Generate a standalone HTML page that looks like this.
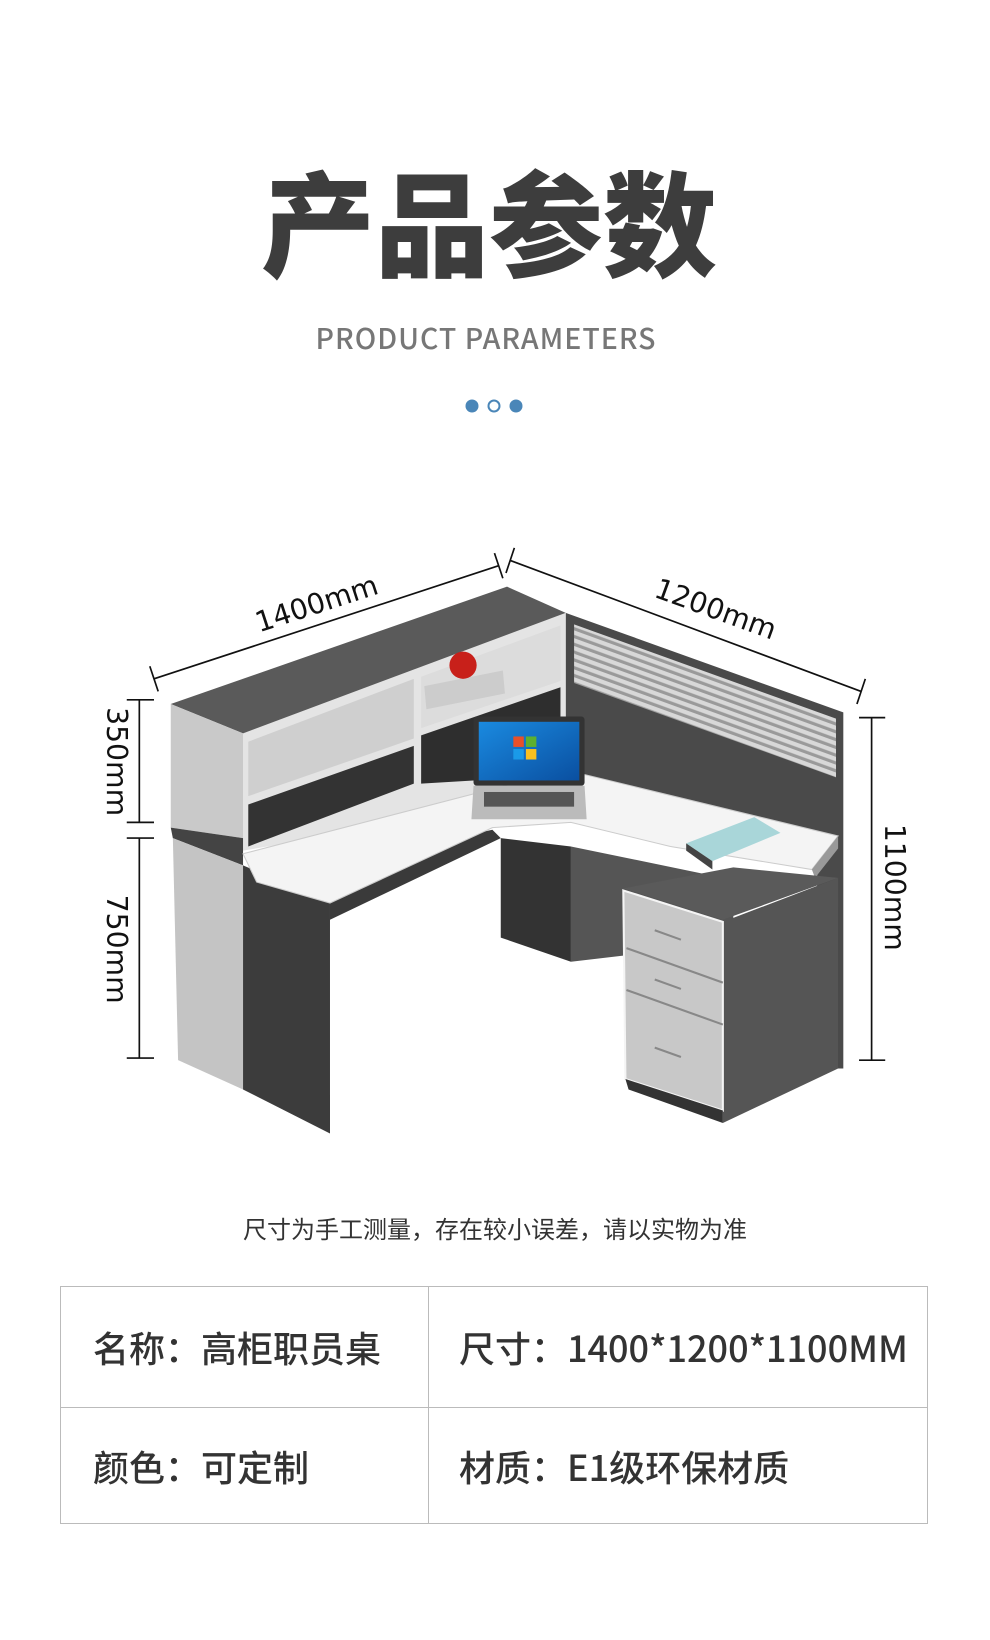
<!DOCTYPE html>
<html><head><meta charset="utf-8">
<style>
body{margin:0;width:990px;height:1640px;background:#fff;position:relative;overflow:hidden;font-family:"Liberation Sans","Noto Sans CJK SC",sans-serif;}
.t{position:absolute;left:0;width:990px;text-align:center;}
#title{top:156px;left:-6px;font-size:114px;font-weight:900;color:#3d3d3d;letter-spacing:0px;line-height:125px;font-family:"Noto Sans CJK SC",sans-serif;}
#sub{top:320px;left:-9px;font-size:28.5px;color:#777;letter-spacing:1px;line-height:36px;font-family:"Noto Sans CJK SC",sans-serif;font-weight:500;}
#note{top:1212px;font-size:24px;color:#333;line-height:32px;font-family:"Noto Sans CJK SC",sans-serif;}
table{position:absolute;left:60px;top:1286px;width:868px;height:238px;border-collapse:collapse;border:1.5px solid #bbb;}
td{font-family:"Noto Sans CJK SC",sans-serif;font-size:36px;font-weight:500;color:#333;padding:0;vertical-align:middle;white-space:nowrap;}
td.l{width:335px;padding-left:32px;border-right:1.5px solid #bbb;}
td.r{padding-left:30px;}
tr.a td{height:120px;border-bottom:1.5px solid #bbb;}
</style></head><body>
<div class="t" id="title">产品参数</div>
<div class="t" id="sub">PRODUCT PARAMETERS</div>
<svg style="position:absolute;left:0;top:0" width="990" height="1200">
<circle cx="472" cy="406" r="6.5" fill="#4a86b8"/>
<circle cx="494" cy="406" r="5.5" fill="#fff" stroke="#4a86b8" stroke-width="2"/>
<circle cx="516" cy="406" r="6.5" fill="#4a86b8"/>
<defs>
<pattern id="st" width="6" height="7" patternUnits="userSpaceOnUse" patternTransform="rotate(20)">
<rect width="6" height="7" fill="#d8d8d8"/><rect y="4" width="6" height="3" fill="#9a9a9a"/></pattern>
<linearGradient id="scr" x1="0" y1="0" x2="1" y2="1"><stop offset="0" stop-color="#1a8ae0"/><stop offset="1" stop-color="#0a4fa0"/></linearGradient>
</defs>
<g transform="scale(1.0476)">
<g stroke="#111" stroke-width="1.6" fill="none">
<line x1="147" y1="648" x2="476" y2="540"/><line x1="143" y1="636" x2="151" y2="660"/><line x1="472" y1="528" x2="480" y2="552"/>
<line x1="487" y1="535" x2="822" y2="660"/><line x1="491" y1="523" x2="483" y2="547"/><line x1="826" y1="648" x2="818" y2="672"/>
<line x1="133" y1="668" x2="133" y2="785"/><line x1="121" y1="668" x2="147" y2="668"/><line x1="121" y1="785" x2="147" y2="785"/>
<line x1="133" y1="800" x2="133" y2="1010"/><line x1="121" y1="800" x2="147" y2="800"/><line x1="121" y1="1010" x2="147" y2="1010"/>
<line x1="832" y1="685" x2="832" y2="1012"/><line x1="820" y1="685" x2="845" y2="685"/><line x1="820" y1="1012" x2="845" y2="1012"/>
</g>
<g font-family="DejaVu Sans, sans-serif" font-size="27" fill="#111" text-anchor="middle">
<text transform="translate(305,585) rotate(-18)">1400mm</text>
<text transform="translate(680,590) rotate(20)">1200mm</text>
<text transform="translate(102,727) rotate(90)">350mm</text>
<text transform="translate(102,906) rotate(90)">750mm</text>
<text transform="translate(845,847) rotate(90)">1100mm</text>
</g>
<polygon points="540,585 805,680 805,1020 780,1020 780,820 540,735" fill="#4a4a4a"/>
<polygon points="548,596 798,686 798,742 548,652" fill="url(#st)"/>
<polygon points="232,700 540,585 540,760 232,812" fill="#e4e4e4"/>
<polygon points="237,708 395,648 395,705 237,760" fill="#cfcfcf"/>
<polygon points="237,768 395,712 395,748 237,808" fill="#333"/>
<polygon points="402,646 535,597 535,650 402,695" fill="#dcdcdc"/>
<polygon points="402,702 535,656 535,740 402,748" fill="#2e2e2e"/>
<polygon points="163,672 484,560 540,585 232,700" fill="#5a5a5a"/>
<polygon points="163,672 232,700 232,800 163,790" fill="#c9c9c9"/>
<polygon points="163,790 232,800 232,826 165,800" fill="#444"/>
<polygon points="165,800 232,826 232,1040 170,1012" fill="#c4c4c4"/>
<polygon points="478,800 545,808 545,918 478,895" fill="#333"/>
<polygon points="545,808 700,840 700,900 545,918" fill="#555"/>
<polygon points="232,826 315,862 315,1082 232,1040" fill="#3c3c3c"/>
<polygon points="245,842 470,792 478,800 315,878 315,862" fill="#3a3a3a"/>
<polygon points="232,815 540,735 800,798 775,830 640,808 545,785 470,790 315,862 245,842" fill="#f4f4f4" stroke="#ccc" stroke-width="1"/>
<polygon points="775,830 800,798 800,810 778,838" fill="#999"/>
<polygon points="595,848 700,828 800,838 690,878" fill="#5a5a5a"/>
<polygon points="690,880 800,838 800,1020 690,1072" fill="#555"/>
<polygon points="595,850 690,880 690,1060 597,1030" fill="#c8c8c8" stroke="#f4f4f4" stroke-width="2"/>
<g stroke="#888" stroke-width="2"><line x1="598" y1="905" x2="690" y2="938"/><line x1="598" y1="945" x2="690" y2="978"/>
<line x1="625" y1="888" x2="650" y2="897"/><line x1="625" y1="935" x2="650" y2="944"/><line x1="625" y1="1000" x2="650" y2="1009"/></g>
<polygon points="597,1030 690,1060 690,1072 600,1040" fill="#333"/>
<rect x="452" y="684" width="106" height="66" fill="#333" rx="3"/>
<rect x="457" y="689" width="96" height="56" fill="url(#scr)"/>
<rect x="490" y="703" width="10" height="10" fill="#e8502a"/><rect x="502" y="703" width="10" height="10" fill="#5cb030"/>
<rect x="490" y="715" width="10" height="10" fill="#1a9ae8"/><rect x="502" y="715" width="10" height="10" fill="#f8c020"/>
<polygon points="452,750 558,750 560,782 450,782" fill="#bbb"/>
<rect x="462" y="756" width="86" height="14" fill="#555"/>
<polygon points="405,655 480,640 482,662 407,677" fill="#ccc"/>
<circle cx="442" cy="635" r="13" fill="#c8201a"/>
<polygon points="655,805 720,780 745,795 680,822" fill="#a9d6d9"/>
<polygon points="655,805 680,822 680,830 655,812" fill="#444"/>
</g>
</svg>
<div class="t" id="note">尺寸为手工测量，存在较小误差，请以实物为准</div>
<table>
<tr class="a"><td class="l">名称：高柜职员桌</td><td class="r">尺寸：1400*1200*1100MM</td></tr>
<tr><td class="l">颜色：可定制</td><td class="r">材质：E1级环保材质</td></tr>
</table>
</body></html>
